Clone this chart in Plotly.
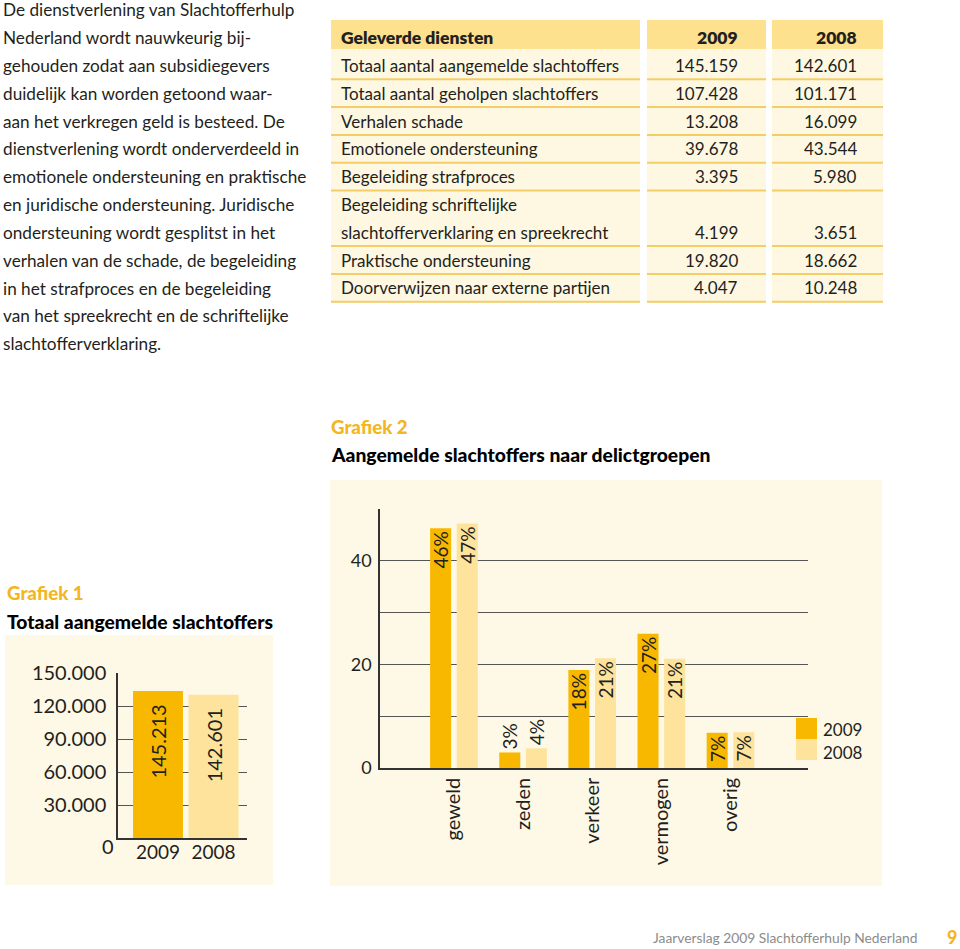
import plotly.graph_objects as go

W, H = 960, 949
FONT = "Lato"
TXT = "#231f20"
GOLD = "#F3B61F"
C2009 = "#F8B800"
C2008 = "#FDE39B"
PANEL = "#FEF8E6"

# ---------------- data ----------------
paragraph_lines = [
    "De dienstverlening van Slachtofferhulp",
    "Nederland wordt nauwkeurig bij-",
    "gehouden zodat aan subsidiegevers",
    "duidelijk kan worden getoond waar-",
    "aan het verkregen geld is besteed. De",
    "dienstverlening wordt onderverdeeld in",
    "emotionele ondersteuning en praktische",
    "en juridische ondersteuning. Juridische",
    "ondersteuning wordt gesplitst in het",
    "verhalen van de schade, de begeleiding",
    "in het strafproces en de begeleiding",
    "van het spreekrecht en de schriftelijke",
    "slachtofferverklaring.",
]

table_header = ["Geleverde diensten", "2009", "2008"]
table_labels = [
    ["Totaal aantal aangemelde slachtoffers"],
    ["Totaal aantal geholpen slachtoffers"],
    ["Verhalen schade"],
    ["Emotionele ondersteuning"],
    ["Begeleiding strafproces"],
    ["Begeleiding schriftelijke", "slachtofferverklaring en spreekrecht"],
    ["Praktische ondersteuning"],
    ["Doorverwijzen naar externe partijen"],
]
table_2009 = ["145.159", "107.428", "13.208", "39.678", "3.395", "4.199", "19.820", "4.047"]
table_2008 = ["142.601", "101.171", "16.099", "43.544", "5.980", "3.651", "18.662", "10.248"]

chart1_title = "Grafiek 1"
chart1_subtitle = "Totaal aangemelde slachtoffers"
chart1_years = ["2009", "2008"]
chart1_heights = [133600, 130200]
chart1_labels = ["145.213", "142.601"]
chart1_tick_vals = [30000, 60000, 90000, 120000, 150000]
chart1_tick_text = ["30.000", "60.000", "90.000", "120.000", "150.000"]

chart2_title = "Grafiek 2"
chart2_subtitle = "Aangemelde slachtoffers naar delictgroepen"
chart2_categories = ["geweld", "zeden", "verkeer", "vermogen", "overig"]
chart2_2009 = [46.3, 3.0, 18.9, 25.9, 6.8]
chart2_2008 = [47.2, 3.8, 21.2, 21.1, 6.9]
chart2_labels_2009 = ["46%", "3%", "18%", "27%", "7%"]
chart2_labels_2008 = ["47%", "4%", "21%", "21%", "7%"]
chart2_tick_vals = [0, 10, 20, 30, 40, 50]
chart2_tick_text = ["0", "", "20", "", "40", ""]
legend_years = ["2009", "2008"]

footer_text = "Jaarverslag 2009 Slachtofferhulp Nederland"
page_number = "9"


def px(x):
    return x / W


def py(y):
    return 1 - y / H


fig = go.Figure()

# chart 1
fig.add_trace(go.Bar(
    x=chart1_years, y=chart1_heights, text=chart1_labels,
    texttemplate="%{text}\u00a0\u00a0",
    marker=dict(color=[C2009, C2008], line=dict(width=0)),
    width=0.9, textposition="inside", insidetextanchor="end", textangle=-90,
    constraintext="none",
    textfont=dict(family=FONT, size=20, color=TXT),
    xaxis="x", yaxis="y", showlegend=False, hoverinfo="skip",
))

# chart 2
bw = 0.304
pos2 = ["inside" if v > 5 else "outside" for v in chart2_2009]
pos8 = ["inside" if v > 5 else "outside" for v in chart2_2008]
fig.add_trace(go.Bar(
    x=chart2_categories, y=chart2_2009, text=chart2_labels_2009, name=legend_years[0],
    marker=dict(color=C2009, line=dict(width=0)), width=bw, offset=-0.344,
    textposition=pos2, insidetextanchor="end", textangle=-90, constraintext="none",
    cliponaxis=False,
    textfont=dict(family=FONT, size=19, color=TXT),
    xaxis="x2", yaxis="y2", showlegend=False, hoverinfo="skip",
))
fig.add_trace(go.Bar(
    x=chart2_categories, y=chart2_2008, text=chart2_labels_2008, name=legend_years[1],
    marker=dict(color=C2008, line=dict(width=0)), width=bw, offset=0.041,
    textposition=pos8, insidetextanchor="end", textangle=-90, constraintext="none",
    cliponaxis=False,
    textfont=dict(family=FONT, size=19, color=TXT),
    xaxis="x2", yaxis="y2", showlegend=False, hoverinfo="skip",
))

shapes = []
annotations = []

# panels
shapes.append(dict(type="rect", xref="paper", yref="paper", x0=px(5), x1=px(273),
                   y0=py(885), y1=py(635), fillcolor=PANEL, line=dict(width=0), layer="below"))
shapes.append(dict(type="rect", xref="paper", yref="paper", x0=px(330), x1=px(882),
                   y0=py(886), y1=py(480), fillcolor=PANEL, line=dict(width=0), layer="below"))

# paragraph
for i, line in enumerate(paragraph_lines):
    annotations.append(dict(text=line, xref="paper", yref="paper", x=px(1), y=py(10 + 27.8 * i),
                            xanchor="left", yanchor="middle", showarrow=False,
                            font=dict(family=FONT, size=17.2, color=TXT)))

# table
cols = [(331, 640), (647, 766), (772, 883)]
for (a, b) in cols:
    shapes.append(dict(type="rect", xref="paper", yref="paper", x0=px(a), x1=px(b),
                       y0=py(49), y1=py(20), fillcolor="#FDE18F", line=dict(width=0), layer="below"))
    shapes.append(dict(type="rect", xref="paper", yref="paper", x0=px(a), x1=px(b),
                       y0=py(303), y1=py(49), fillcolor="#FEF7E2", line=dict(width=0), layer="below"))

hdr_font = dict(family=FONT, size=17.5, color=TXT, weight=800)
annotations.append(dict(text=table_header[0], xref="paper", yref="paper", x=px(339), y=py(38),
                        xanchor="left", yanchor="middle", showarrow=False, font=hdr_font))
annotations.append(dict(text=table_header[1], xref="paper", yref="paper", x=px(740), y=py(38),
                        xanchor="right", yanchor="middle", showarrow=False, font=hdr_font))
annotations.append(dict(text=table_header[2], xref="paper", yref="paper", x=px(859), y=py(38),
                        xanchor="right", yanchor="middle", showarrow=False, font=hdr_font))

cell_font = dict(family=FONT, size=17, color=TXT)
LINE_H = 27.8
y_top = 51.5
for lab, v9, v8 in zip(table_labels, table_2009, table_2008):
    for k, t in enumerate(lab):
        annotations.append(dict(text=t, xref="paper", yref="paper", x=px(339),
                                y=py(y_top + LINE_H * (k + 0.5)), xanchor="left", yanchor="middle",
                                showarrow=False, font=cell_font))
    yv = y_top + LINE_H * (len(lab) - 0.5)
    annotations.append(dict(text=v9, xref="paper", yref="paper", x=px(740), y=py(yv),
                            xanchor="right", yanchor="middle", showarrow=False, font=cell_font))
    annotations.append(dict(text=v8, xref="paper", yref="paper", x=px(859), y=py(yv),
                            xanchor="right", yanchor="middle", showarrow=False, font=cell_font))
    y_top += LINE_H * len(lab)
    for (a, b) in cols:
        shapes.append(dict(type="line", xref="paper", yref="paper", x0=px(a), x1=px(b),
                           y0=py(y_top), y1=py(y_top), line=dict(color="#F3CE68", width=2), layer="below"))

# chart titles
for title, sub, x, y1, y2 in [(chart1_title, chart1_subtitle, 5, 593, 621),
                              (chart2_title, chart2_subtitle, 329, 427, 455)]:
    annotations.append(dict(text=title, xref="paper", yref="paper", x=px(x), y=py(y1),
                            xanchor="left", yanchor="middle", showarrow=False,
                            font=dict(family=FONT, size=18.7, color=GOLD, weight=900)))
    annotations.append(dict(text=sub, xref="paper", yref="paper", x=px(x), y=py(y2),
                            xanchor="left", yanchor="middle", showarrow=False,
                            font=dict(family=FONT, size=19.3, color="#000000", weight=900)))

# chart 1 zero label
annotations.append(dict(text="0", xref="paper", yref="paper", x=px(108), y=py(846),
                        xanchor="center", yanchor="middle", showarrow=False,
                        font=dict(family=FONT, size=20, color=TXT)))

# chart 2 legend
for i, (yr, col) in enumerate(zip(legend_years, [C2009, C2008])):
    y0 = 718 + 21 * i
    shapes.append(dict(type="rect", xref="paper", yref="paper", x0=px(796), x1=px(817),
                       y0=py(y0 + 21), y1=py(y0), fillcolor=col, line=dict(width=0)))
    annotations.append(dict(text=yr, xref="paper", yref="paper", x=px(821), y=py(729 + 23 * i),
                            xanchor="left", yanchor="middle", showarrow=False,
                            font=dict(family=FONT, size=17, color=TXT)))

# footer
annotations.append(dict(text=footer_text, xref="paper", yref="paper", x=px(919), y=py(937),
                        xanchor="right", yanchor="middle", showarrow=False,
                        font=dict(family=FONT, size=13.8, color="#8C8C8C")))
annotations.append(dict(text=page_number, xref="paper", yref="paper", x=px(952), y=py(937),
                        xanchor="center", yanchor="middle", showarrow=False,
                        font=dict(family=FONT, size=18, color=GOLD, weight=900)))

axis_common = dict(showgrid=False, zeroline=False, ticks="", fixedrange=True, automargin=False)

fig.update_layout(
    width=W, height=H, autosize=False,
    margin=dict(l=0, r=0, t=0, b=0, pad=0, autoexpand=False),
    paper_bgcolor="white", plot_bgcolor="rgba(0,0,0,0)",
    font=dict(family=FONT, color=TXT),
    showlegend=False,
    xaxis=dict(domain=[px(118), px(247)], anchor="y", type="category",
               range=[-0.7207, 1.6036], showline=True, linecolor="#333", linewidth=1.5,
               ticklabelstandoff=-4,
               tickfont=dict(family=FONT, size=19, color=TXT), **axis_common),
    yaxis=dict(domain=[py(838), py(673)], anchor="x", range=[0, 150000],
               tickmode="array", tickvals=chart1_tick_vals, ticktext=chart1_tick_text,
               showline=True, linecolor="#333", linewidth=1.5,
               showgrid=True, gridcolor="#555", gridwidth=1, zeroline=False, ticks="",
               ticklabelstandoff=6, fixedrange=True, automargin=False,
               tickfont=dict(family=FONT, size=20, color=TXT)),
    xaxis2=dict(domain=[px(380), px(808)], anchor="y2", type="category",
                range=[-1.0688, 5.1215], showline=True, linecolor="#333", linewidth=1.5,
                tickangle=-90, tickfont=dict(family=FONT, size=20, color=TXT), **axis_common),
    yaxis2=dict(domain=[py(768), py(509)], anchor="x2", range=[0, 50],
                tickmode="array", tickvals=chart2_tick_vals, ticktext=chart2_tick_text,
                showline=True, linecolor="#333", linewidth=1.5,
                showgrid=True, gridcolor="#555", gridwidth=1, zeroline=False, ticks="",
                ticklabelstandoff=3, fixedrange=True, automargin=False,
                tickfont=dict(family=FONT, size=18, color=TXT)),
    shapes=shapes, annotations=annotations,
)

fig.write_html(
    "out.html",
    config={"displayModeBar": False},
    post_script="document.body.style.margin='0';document.body.style.overflow='hidden';",
)
